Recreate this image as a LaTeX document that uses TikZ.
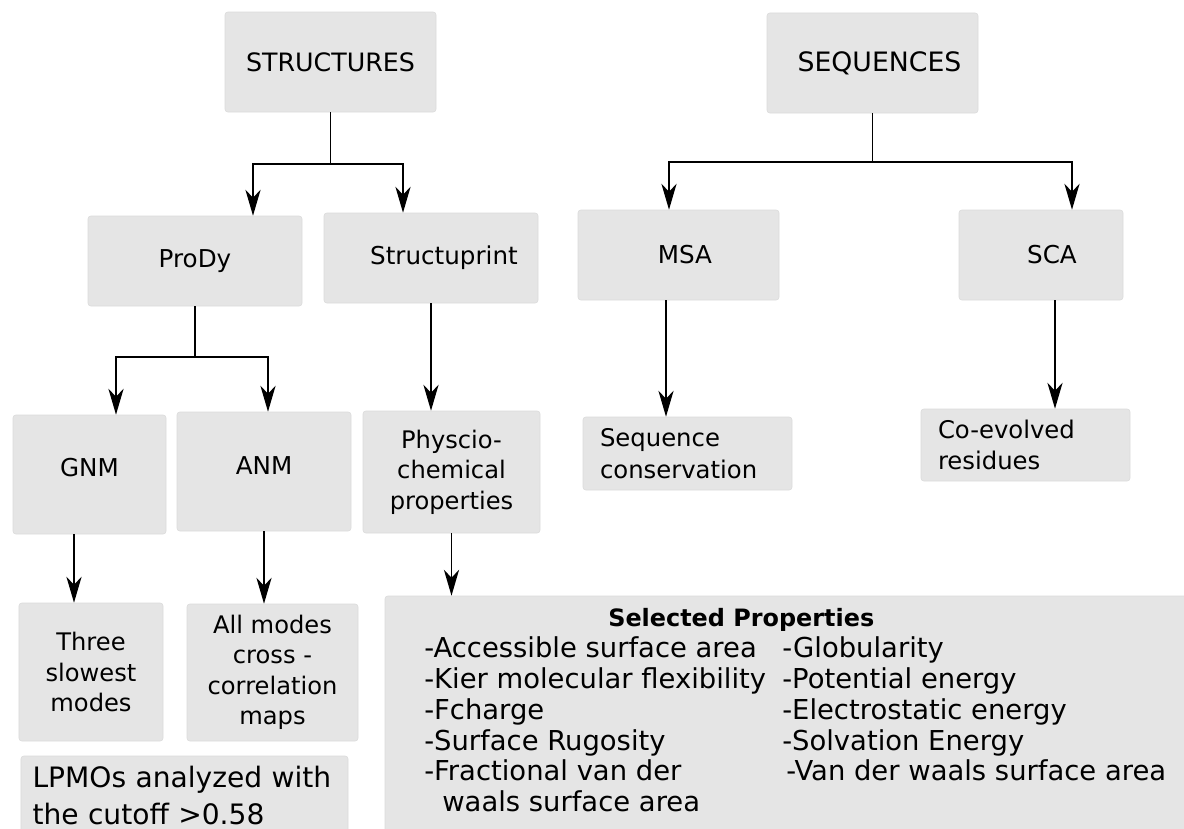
\documentclass[tikz,border=0pt]{standalone}
\usepackage{fontspec}
\setmainfont{DejaVu Sans}
\usetikzlibrary{arrows.meta}

\begin{document}
\begin{tikzpicture}[
				BoxNode/.style={rectangle, draw=black!14, fill=black!10, rounded corners=2pt, inner sep=0pt, align=center},
				LeftNode/.style={BoxNode, align=left, inner xsep=0.425cm},
				Arr/.style={line width=1.1pt, -{Stealth[length=6.5mm, width=3.8mm, inset=2mm]}}]

			\useasboundingbox (0cm, 0cm) rectangle (29.6cm, -20.725cm);

			\node[BoxNode, minimum width=5.275cm, minimum height=2.5cm, font=\fontsize{18}{20}\selectfont] (S) at (8.2625cm, -1.55cm) {STRUCTURES};
			\node[BoxNode, minimum width=5.275cm, minimum height=2.5cm, font=\fontsize{19}{20}\selectfont] (Q) at (21.8125cm, -1.575cm) {\hspace*{0.35cm}SEQUENCES};

			\node[BoxNode, minimum width=5.35cm, minimum height=2.25cm, font=\fontsize{17.5}{20}\selectfont] (P) at (4.875cm, -6.525cm) {ProDy};
			\node[BoxNode, minimum width=5.35cm, minimum height=2.25cm, font=\fontsize{17.5}{20}\selectfont] (St) at (10.775cm, -6.45cm) {\hspace*{0.65cm}Structuprint};
			\node[BoxNode, minimum width=5.025cm, minimum height=2.25cm, font=\fontsize{17.5}{20}\selectfont] (M) at (16.9625cm, -6.375cm) {\hspace*{0.325cm}MSA};
			\node[BoxNode, minimum width=4.1cm, minimum height=2.25cm, font=\fontsize{17.5}{20}\selectfont] (C) at (26.025cm, -6.375cm) {\hspace*{0.55cm}SCA};

			\node[BoxNode, minimum width=3.825cm, minimum height=2.975cm, font=\fontsize{17.5}{22}\selectfont] (G) at (2.2375cm, -11.8625cm) {\raisebox{0.35cm}{GNM}};
			\node[BoxNode, minimum width=4.35cm, minimum height=2.975cm, font=\fontsize{17.5}{22}\selectfont] (A) at (6.6cm, -11.7875cm) {\raisebox{0.3cm}{ANM}};
			\node[BoxNode, minimum width=4.425cm, minimum height=3.05cm, font=\fontsize{17.2}{21.7}\selectfont] (Ph) at (11.2875cm, -11.8cm) {Physcio-\\chemical\\properties};
			\node[LeftNode, text width=4.375cm, minimum height=1.825cm, font=\fontsize{17.3}{22.8}\selectfont] (Sc) at (17.1875cm, -11.3375cm) {Sequence\\conservation};
			\node[LeftNode, text width=4.375cm, minimum height=1.8cm, font=\fontsize{17.3}{22.5}\selectfont] (Ce) at (25.6375cm, -11.125cm) {Co-evolved\\residues};

			\node[BoxNode, minimum width=3.6cm, minimum height=3.45cm, font=\fontsize{17.2}{22}\selectfont] (Tm) at (2.275cm, -16.8cm) {Three\\slowest\\modes};
			\node[BoxNode, minimum width=4.275cm, minimum height=3.425cm, font=\fontsize{17.2}{21.6}\selectfont] (Am) at (6.8125cm, -16.8125cm) {All modes\\cross -\\correlation\\maps};
			\node[LeftNode, text width=7.6cm, inner xsep=0.2875cm, minimum height=1.975cm, font=\fontsize{20}{26.3}\selectfont] (L) at (4.6125cm, -19.8875cm) {LPMOs analyzed with\\the cutoff >0.58};

			\node[BoxNode, minimum width=20.125cm, minimum height=5.975cm] (Sp) at (19.6875cm, -17.8875cm) {};
			\node[anchor=north west, inner sep=0pt, font=\fontsize{19.5}{22}\selectfont] (SpT) at (10.6cm, -15.11cm) {%
				\begin{tabular}{@{}p{8.95cm}@{}l@{}}
					\multicolumn{2}{@{}l@{}}{\makebox[15.85cm]{\fontsize{17}{22}\selectfont\bfseries Selected Properties}}\\
					-Accessible surface area & -Globularity\\
					-Kier molecular flexibility & -Potential energy\\
					-Fcharge & -Electrostatic energy\\
					-Surface Rugosity & -Solvation Energy\\
					-Fractional van der & \hspace*{0.1cm}-Van der waals surface area\\
					\hspace*{0.45cm}waals surface area &
				\end{tabular}};

			\coordinate (s1) at (6.325cm, -4.1cm);
			\coordinate (s2) at (10.075cm, -4.1cm);
			\draw[Arr] (S.south) |- (s1) -- (s1 |- P.north);
			\draw[Arr] (S.south) |- (s2) -- (s2 |- St.north);

			\coordinate (q1) at (16.725cm, -4.05cm);
			\coordinate (q2) at (26.8cm, -4.05cm);
			\draw[Arr] (Q.south) |- (q1) -- (q1 |- M.north);
			\draw[Arr] (Q.south) |- (q2) -- (q2 |- C.north);

			\coordinate (p1) at (2.9cm, -8.925cm);
			\coordinate (p2) at (6.7cm, -8.925cm);
			\draw[Arr] (P.south) |- (p1) -- (p1 |- G.north);
			\draw[Arr] (P.south) |- (p2) -- (p2 |- A.north);

			\coordinate (g1) at ([xshift=-0.3875cm]G.south);
			\draw[Arr] (g1) -- (g1 |- Tm.north);
			\draw[Arr] (A.south) -- (A.south |- Am.north);
			\draw[Arr] (St.south) -- (St.south |- Ph.north);
			\draw[Arr] (Ph.south) -- (Ph.south |- Sp.north);

			\coordinate (m1) at ([xshift=-0.3125cm]M.south);
			\draw[Arr] (m1) -- (m1 |- Sc.north);
			\coordinate (c1) at ([xshift=0.35cm]C.south);
			\draw[Arr] (c1) -- (c1 |- Ce.north);
		\end{tikzpicture}
\end{document}
